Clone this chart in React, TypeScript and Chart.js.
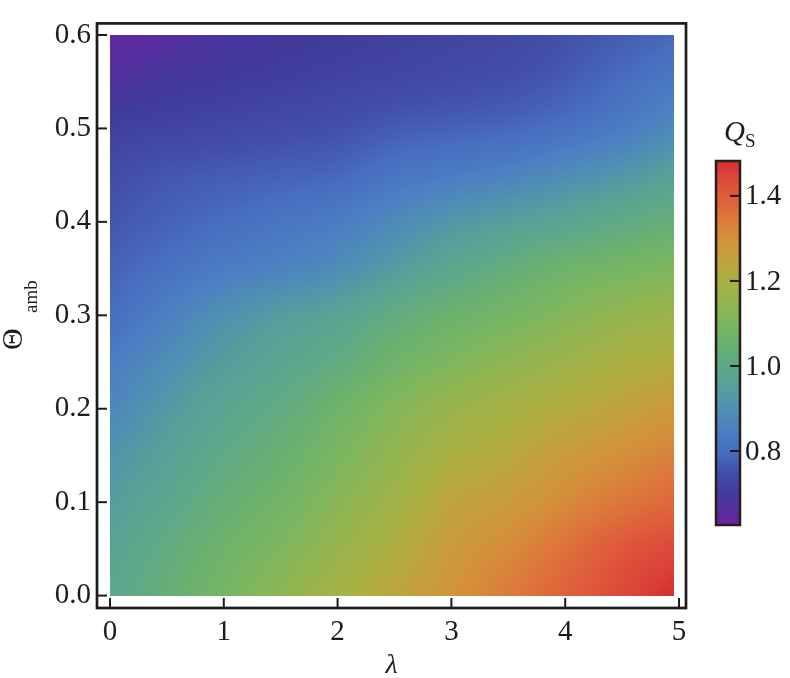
import { useEffect, useRef } from "react";
import { Chart, registerables } from "chart.js";

Chart.register(...registerables);

// ---- data ----
const lambdaValues = [0, 0.5, 1, 1.5, 2, 2.5, 3, 3.5, 4, 4.5, 4.96];
const thetaValues = [0, 0.05, 0.1, 0.15, 0.2, 0.25, 0.3, 0.35, 0.4, 0.45, 0.5, 0.55, 0.6];
// one row per theta value, one column per lambda value
const qsTheta000 = [0.99, 1.04, 1.09, 1.14, 1.19, 1.24, 1.29, 1.34, 1.39, 1.44, 1.48];
const qsTheta005 = [0.97, 1.02, 1.07, 1.11, 1.16, 1.21, 1.27, 1.31, 1.36, 1.41, 1.44];
const qsTheta010 = [0.94, 0.99, 1.04, 1.08, 1.13, 1.18, 1.24, 1.27, 1.31, 1.35, 1.38];
const qsTheta015 = [0.91, 0.96, 1.01, 1.05, 1.1, 1.15, 1.2, 1.23, 1.27, 1.3, 1.33];
const qsTheta020 = [0.87, 0.93, 0.98, 1.02, 1.07, 1.12, 1.16, 1.19, 1.22, 1.25, 1.28];
const qsTheta025 = [0.84, 0.89, 0.94, 0.98, 1.02, 1.07, 1.11, 1.14, 1.17, 1.2, 1.22];
const qsTheta030 = [0.8, 0.85, 0.9, 0.94, 0.97, 1.02, 1.06, 1.09, 1.12, 1.15, 1.17];
const qsTheta035 = [0.78, 0.81, 0.84, 0.86, 0.89, 0.94, 0.99, 1.03, 1.07, 1.09, 1.11];
const qsTheta040 = [0.76, 0.78, 0.8, 0.82, 0.84, 0.88, 0.92, 0.95, 0.98, 1.01, 1.04];
const qsTheta045 = [0.74, 0.76, 0.77, 0.78, 0.79, 0.82, 0.84, 0.86, 0.89, 0.92, 0.96];
const qsTheta050 = [0.71, 0.72, 0.73, 0.74, 0.75, 0.77, 0.78, 0.79, 0.81, 0.84, 0.88];
const qsTheta055 = [0.67, 0.69, 0.7, 0.71, 0.72, 0.73, 0.74, 0.75, 0.77, 0.8, 0.83];
const qsTheta060 = [0.64, 0.66, 0.68, 0.69, 0.7, 0.71, 0.72, 0.73, 0.75, 0.77, 0.79];
const qsRows = [
  qsTheta000, qsTheta005, qsTheta010, qsTheta015, qsTheta020, qsTheta025, qsTheta030,
  qsTheta035, qsTheta040, qsTheta045, qsTheta050, qsTheta055, qsTheta060,
];

const xTickValues = [0, 1, 2, 3, 4, 5];
const yTickValues = [0, 0.1, 0.2, 0.3, 0.4, 0.5, 0.6];
const colorbarTickValues = [0.8, 1.0, 1.2, 1.4];
const colorbarMin = 0.626;
const colorbarMax = 1.482;

// colour map (value -> colour), Rainbow-like
const colorStopValues = [0.626, 0.7, 0.75, 0.8, 0.85, 0.9, 0.95, 1.0, 1.05, 1.1, 1.15, 1.2, 1.25, 1.3, 1.35, 1.4, 1.45, 1.482];
const colorStopHex = [
  "#6b23a0", "#403c9c", "#4350aa", "#486ec0", "#4b80c2", "#5090b2", "#599e9a", "#5ea88a",
  "#68b072", "#7ab661", "#93b54f", "#a9b042", "#c1a23c", "#d4903a", "#dd763a", "#df5c3b",
  "#da4438", "#d42b30",
];

const FONT = "'Liberation Serif', 'DejaVu Serif', serif";
const INK = "#1c1c1c";

function hexToRgb(h: string): number[] {
  const n = parseInt(h.slice(1), 16);
  return [(n >> 16) & 255, (n >> 8) & 255, n & 255];
}
const colorStopRgb = colorStopHex.map(hexToRgb);

function colorFor(v: number): number[] {
  const vs = colorStopValues;
  if (v <= vs[0]) return colorStopRgb[0];
  if (v >= vs[vs.length - 1]) return colorStopRgb[vs.length - 1];
  let i = 0;
  while (i < vs.length - 2 && v > vs[i + 1]) i++;
  const t = (v - vs[i]) / (vs[i + 1] - vs[i]);
  const a = colorStopRgb[i];
  const b = colorStopRgb[i + 1];
  return [a[0] + (b[0] - a[0]) * t, a[1] + (b[1] - a[1]) * t, a[2] + (b[2] - a[2]) * t];
}

function locate(arr: number[], v: number): [number, number] {
  if (v <= arr[0]) return [0, 0];
  if (v >= arr[arr.length - 1]) return [arr.length - 2, 1];
  let i = 0;
  while (i < arr.length - 2 && v > arr[i + 1]) i++;
  return [i, (v - arr[i]) / (arr[i + 1] - arr[i])];
}

// Catmull-Rom weights for smooth shading between grid samples
function cr(p0: number, p1: number, p2: number, p3: number, t: number): number {
  const t2 = t * t;
  const t3 = t2 * t;
  return 0.5 * (2 * p1 + (-p0 + p2) * t + (2 * p0 - 5 * p1 + 4 * p2 - p3) * t2 + (-p0 + 3 * p1 - 3 * p2 + p3) * t3);
}

function rowAt(row: number[], i: number, t: number): number {
  const n = row.length;
  const g = (k: number) => row[Math.max(0, Math.min(n - 1, k))];
  const p1 = g(i);
  const p2 = g(i + 1);
  const p0 = i - 1 >= 0 ? g(i - 1) : 2 * p1 - p2;
  const p3 = i + 2 <= n - 1 ? g(i + 2) : 2 * p2 - p1;
  return cr(p0, p1, p2, p3, t);
}

function sampleGrid(la: number, th: number): number {
  const [i, tx] = locate(lambdaValues, la);
  const [j, ty] = locate(thetaValues, th);
  const m = qsRows.length;
  const v = (k: number) => rowAt(qsRows[Math.max(0, Math.min(m - 1, k))], i, tx);
  const p1 = v(j);
  const p2 = v(j + 1);
  const p0 = j - 1 >= 0 ? v(j - 1) : 2 * p1 - p2;
  const p3 = j + 2 <= m - 1 ? v(j + 2) : 2 * p2 - p1;
  return cr(p0, p1, p2, p3, ty);
}

const heatmapPlugin = {
  id: "heatmapField",
  beforeDatasetsDraw(chart: any) {
    const { ctx } = chart;
    const xs = chart.scales.x;
    const ys = chart.scales.y;
    const left = Math.round(xs.getPixelForValue(lambdaValues[0]));
    const right = Math.round(xs.getPixelForValue(lambdaValues[lambdaValues.length - 1]));
    const top = Math.round(ys.getPixelForValue(thetaValues[thetaValues.length - 1]));
    const bottom = Math.round(ys.getPixelForValue(thetaValues[0]));
    const w = right - left;
    const h = bottom - top;
    if (w <= 0 || h <= 0) return;
    const off = document.createElement("canvas");
    off.width = w;
    off.height = h;
    const octx = off.getContext("2d")!;
    const img = octx.createImageData(w, h);
    for (let j = 0; j < h; j++) {
      const th = ys.getValueForPixel(top + j + 0.5);
      for (let i = 0; i < w; i++) {
        const la = xs.getValueForPixel(left + i + 0.5);
        const c = colorFor(sampleGrid(la, th));
        const k = (j * w + i) * 4;
        img.data[k] = c[0];
        img.data[k + 1] = c[1];
        img.data[k + 2] = c[2];
        img.data[k + 3] = 255;
      }
    }
    octx.putImageData(img, 0, 0);
    ctx.drawImage(off, left, top);
  },
  afterDraw(chart: any) {
    const { ctx, chartArea } = chart;
    const xs = chart.scales.x;
    const ys = chart.scales.y;
    ctx.save();
    // inward ticks
    ctx.strokeStyle = INK;
    ctx.lineWidth = 2;
    xTickValues.forEach((v) => {
      const px = xs.getPixelForValue(v);
      ctx.beginPath();
      ctx.moveTo(px, chartArea.bottom);
      ctx.lineTo(px, chartArea.bottom - 10);
      ctx.stroke();
    });
    yTickValues.forEach((v) => {
      const py = ys.getPixelForValue(v);
      ctx.beginPath();
      ctx.moveTo(chartArea.left, py);
      ctx.lineTo(chartArea.left + 10, py);
      ctx.stroke();
    });
    // frame
    ctx.lineWidth = 2.7;
    ctx.strokeRect(chartArea.left, chartArea.top, chartArea.right - chartArea.left, chartArea.bottom - chartArea.top);

    // axis titles
    ctx.fillStyle = INK;
    ctx.textBaseline = "alphabetic";
    ctx.textAlign = "center";
    ctx.font = `italic 28px ${FONT}`;
    ctx.fillText("λ", (chartArea.left + chartArea.right) / 2, 673);

    ctx.save();
    ctx.translate(22, 350);
    ctx.rotate(-Math.PI / 2);
    ctx.textAlign = "left";
    ctx.font = `30px ${FONT}`;
    ctx.fillText("Θ", 0, 0);
    ctx.restore();
    ctx.save();
    ctx.translate(37, 313);
    ctx.rotate(-Math.PI / 2);
    ctx.textAlign = "left";
    ctx.font = `19px ${FONT}`;
    ctx.fillText("amb", 0, 0);
    ctx.restore();

    // colour bar
    const cbL = 716;
    const cbR = 740;
    const cbT = 161;
    const cbB = 525;
    const valToPx = (v: number) => cbB - ((v - colorbarMin) / (colorbarMax - colorbarMin)) * (cbB - cbT);
    for (let py = cbT; py < cbB; py++) {
      const v = colorbarMax - ((py + 0.5 - cbT) / (cbB - cbT)) * (colorbarMax - colorbarMin);
      const c = colorFor(v);
      ctx.fillStyle = `rgb(${c[0]},${c[1]},${c[2]})`;
      ctx.fillRect(cbL, py, cbR - cbL, 1);
    }
    ctx.strokeStyle = "#2a1c1c";
    ctx.lineWidth = 2.5;
    ctx.strokeRect(cbL, cbT, cbR - cbL, cbB - cbT);
    ctx.strokeStyle = INK;
    ctx.lineWidth = 2;
    ctx.fillStyle = INK;
    ctx.font = `29px ${FONT}`;
    ctx.textAlign = "left";
    ctx.textBaseline = "middle";
    colorbarTickValues.forEach((v) => {
      const py = valToPx(v);
      ctx.beginPath();
      ctx.moveTo(cbR, py);
      ctx.lineTo(cbR - 10, py);
      ctx.stroke();
      ctx.fillText(v.toFixed(1), 745, py + 1);
    });
    // colour bar title Q_S
    ctx.textBaseline = "alphabetic";
    ctx.font = `italic 29px ${FONT}`;
    ctx.fillText("Q", 724, 141);
    ctx.font = `19px ${FONT}`;
    ctx.fillText("S", 745, 147);
    ctx.restore();
  },
};

export default function App() {
  const canvasRef = useRef<HTMLCanvasElement | null>(null);

  useEffect(() => {
    if (!canvasRef.current) return;
    const points: { x: number; y: number }[] = [];
    thetaValues.forEach((th) => lambdaValues.forEach((la) => points.push({ x: la, y: th })));
    const tickFont = { family: FONT, size: 29 };
    const chart = new Chart(canvasRef.current, {
      type: "scatter",
      data: {
        datasets: [
          {
            label: "Q_S grid",
            data: points,
            pointRadius: 0,
            pointHoverRadius: 0,
            showLine: false,
          },
        ],
      },
      options: {
        animation: false,
        responsive: true,
        maintainAspectRatio: false,
        layout: { padding: { left: 0, top: 18, right: 104, bottom: 0 } },
        plugins: {
          legend: { display: false },
          tooltip: { enabled: false },
          title: { display: false },
        },
        scales: {
          x: {
            type: "linear",
            min: -0.1142,
            max: 5.0615,
            grid: { display: false, drawTicks: false },
            border: { display: false },
            ticks: {
              font: tickFont,
              color: INK,
              padding: 7,
              maxRotation: 0,
              includeBounds: false,
              callback: (v: any) => String(v),
            },
            afterBuildTicks: (s: any) => {
              s.ticks = xTickValues.map((v) => ({ value: v }));
            },
            afterFit: (s: any) => {
              s.height = 70;
            },
          },
          y: {
            type: "linear",
            min: -0.01326,
            max: 0.6124,
            grid: { display: false, drawTicks: false },
            border: { display: false },
            ticks: {
              font: tickFont,
              color: INK,
              padding: 6,
              includeBounds: false,
              callback: (v: any) => Number(v).toFixed(1),
            },
            afterBuildTicks: (s: any) => {
              s.ticks = yTickValues.map((v) => ({ value: v }));
            },
            afterFit: (s: any) => {
              s.width = 97;
            },
          },
        },
      } as any,
      plugins: [heatmapPlugin],
    });
    return () => chart.destroy();
  }, []);

  return (
    <div style={{ position: "absolute", left: 0, top: 0, width: 790, height: 678, background: "#fff" }}>
      <canvas ref={canvasRef} />
    </div>
  );
}
